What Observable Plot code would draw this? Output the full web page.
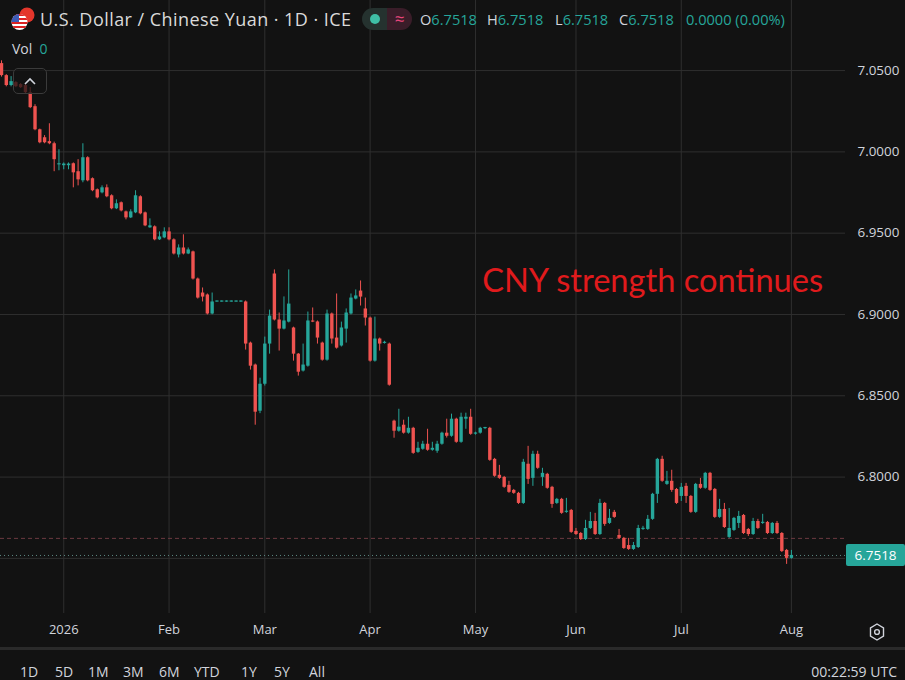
<!DOCTYPE html>
<html><head><meta charset="utf-8">
<script src="https://cdn.jsdelivr.net/npm/d3@7"></script>
<script src="https://cdn.jsdelivr.net/npm/@observablehq/plot@0.6"></script>
<style>
html,body{margin:0;padding:0;background:#121212;}
#wrap{position:relative;width:905px;height:680px;background:#121212;overflow:hidden;font-family:"Open Sans","Noto Sans",sans-serif;color:#d1d4dc;}
#chart{position:absolute;left:0;top:0;}
.abs{position:absolute;white-space:nowrap;}
#title{left:40px;top:6px;font-size:18px;letter-spacing:0.45px;line-height:26px;color:#dadada;}
#pill{left:362px;top:8px;width:50px;height:22px;border-radius:11px;overflow:hidden;display:flex;}
#pill .a{width:25px;background:#25322f;display:flex;align-items:center;justify-content:center;}
#pill .b{width:25px;background:#3a1d29;display:flex;align-items:center;justify-content:center;color:#e8467c;font-size:17px;line-height:22px;}
.ohlc{top:9px;font-size:14.6px;line-height:20px;}
.k{color:#d1d4dc;} .v{color:#26a69a;}
#vol{left:12px;top:39px;font-size:14px;line-height:20px;}
#btn{left:13px;top:68px;width:32px;height:24px;border:1px solid #3b3b3b;border-radius:5px;background:rgba(18,18,18,0.72);}
#sep{left:0;top:647px;width:905px;height:3px;background:#2a2a2a;}
.tb{top:662px;font-size:14px;line-height:20px;color:#d1d4dc;}
#price{width:59px;height:22px;left:846px;background:#26a69a;color:#fff;font-size:13.5px;line-height:22px;text-align:center;border-radius:2px;}
</style></head><body>
<div id="wrap">
  <div id="chart"></div>
  <svg class="abs" style="left:10px;top:6px" width="28" height="26" viewBox="0 0 28 26">
    <circle cx="17" cy="9" r="7.5" fill="#e4362b"/>
    <circle cx="9.5" cy="16" r="8" fill="#fff"/>
    <clipPath id="cu"><circle cx="9.5" cy="16" r="8"/></clipPath>
    <g clip-path="url(#cu)">
      <rect x="0" y="8" width="20" height="2" fill="#d22"/>
      <rect x="0" y="12" width="20" height="2" fill="#d22"/>
      <rect x="0" y="16" width="20" height="2" fill="#d22"/>
      <rect x="0" y="20" width="20" height="2" fill="#d22"/>
      <rect x="0" y="8" width="9" height="8" fill="#3d5bb5"/>
    </g>
  </svg>
  <div id="title" class="abs">U.S. Dollar / Chinese Yuan · 1D · ICE</div>
  <div id="pill" class="abs"><div class="a"><svg width="12" height="12"><circle cx="6" cy="6" r="5" fill="#3fbfa6"/></svg></div><div class="b">≈</div></div>
  <div class="abs ohlc" style="left:420px"><span class="k">O</span><span class="v">6.7518</span></div>
  <div class="abs ohlc" style="left:487px"><span class="k">H</span><span class="v">6.7518</span></div>
  <div class="abs ohlc" style="left:555px"><span class="k">L</span><span class="v">6.7518</span></div>
  <div class="abs ohlc" style="left:619px"><span class="k">C</span><span class="v">6.7518</span></div>
  <div class="abs ohlc" style="left:686px"><span class="v">0.0000 (0.00%)</span></div>
  <div id="vol" class="abs"><span class="k">Vol</span>&nbsp;&nbsp;<span class="v">0</span></div>
  <div id="btn" class="abs"><svg width="32" height="24"><path d="M11 15 L16 10 L21 15" stroke="#d1d4dc" stroke-width="1.6" fill="none"/></svg></div>
  <svg class="abs" style="left:868px;top:622px" width="18" height="20" viewBox="0 0 18 20">
    <path d="M9 2 L15.5 5.8 L15.5 14.2 L9 18 L2.5 14.2 L2.5 5.8 Z" fill="none" stroke="#d1d4dc" stroke-width="1.4"/>
    <circle cx="9" cy="10" r="2.4" fill="none" stroke="#d1d4dc" stroke-width="1.4"/>
  </svg>
  <div id="sep" class="abs"></div>
  <div id="price" class="abs">6.7518</div>
</div>
<script>
// ---- data ----
const openP = [
7.0543,7.0469,7.0408,7.0426,7.0414,7.0408,7.0364,7.0278,7.0136,7.0087,
7.0063,7.0050,6.9920,6.9915,6.9915,6.9927,6.9878,6.9822,6.9964,6.9835,
6.9767,6.9748,6.9779,6.9730,6.9650,6.9687,6.9631,6.9594,6.9625,6.9724,
6.9625,6.9533,6.9539,6.9459,6.9471,6.9508,6.9459,6.9366,6.9409,6.9372,
6.9385,6.9218,6.9132,6.9120,6.9003,6.9076,6.9076,6.9076,6.9076,6.9076,
6.9076,6.9077,6.8824,6.8689,6.8405,6.8571,6.8818,6.9249,6.8966,6.8910,
6.8953,6.8917,6.8756,6.8652,6.8682,6.8960,6.8954,6.8824,6.8719,6.9003,
6.8855,6.8806,6.8910,6.9003,6.9095,6.9144,6.9034,6.8978,6.8713,6.8849,
6.8822,6.8818,6.8344,6.8282,6.8319,6.8270,6.8300,6.8152,6.8171,6.8202,
6.8165,6.8159,6.8202,6.8270,6.8251,6.8356,6.8214,6.8356,6.8368,6.8264,
6.8270,6.8298,6.8300,6.8109,6.8011,6.7998,6.7949,6.7918,6.7900,6.7838,
6.8079,6.7992,6.8140,6.7998,6.8017,6.7937,6.7838,6.7863,6.7783,6.7795,
6.7666,6.7653,6.7616,6.7684,6.7727,6.7647,6.7838,6.7715,6.7783,6.7641,
6.7623,6.7579,6.7555,6.7567,6.7678,6.7678,6.7740,6.7894,6.8109,6.7955,
6.7974,6.7924,6.7881,6.7943,6.7881,6.7783,6.7955,6.7931,6.8023,6.7924,
6.7752,6.7801,6.7629,6.7672,6.7715,6.7764,6.7678,6.7647,6.7727,6.7715,
6.7721,6.7653,6.7715,6.7653,6.7549,6.7500];
const highP = [
7.0560,7.0475,7.0463,7.0432,7.0420,7.0414,7.0395,7.0290,7.0140,7.0100,
7.0173,7.0060,7.0013,6.9932,6.9932,6.9932,6.9952,7.0050,6.9970,6.9840,
6.9772,6.9791,6.9797,6.9736,6.9705,6.9692,6.9636,6.9644,6.9761,6.9730,
6.9630,6.9588,6.9545,6.9508,6.9533,6.9533,6.9465,6.9428,6.9490,6.9409,
6.9390,6.9224,6.9163,6.9126,6.9132,6.9083,6.9083,6.9083,6.9083,6.9083,
6.9083,6.9083,6.8830,6.8695,6.8608,6.8861,6.9027,6.9274,6.9009,6.9108,
6.9274,6.8922,6.8760,6.8818,6.9015,6.9040,6.8960,6.8830,6.9027,6.9009,
6.9126,6.8953,6.9034,6.9126,6.9151,6.9206,6.9101,6.8984,6.8984,6.8855,
6.8835,6.8824,6.8350,6.8417,6.8350,6.8368,6.8306,6.8214,6.8220,6.8294,
6.8214,6.8220,6.8276,6.8356,6.8387,6.8362,6.8393,6.8393,6.8417,6.8276,
6.8306,6.8306,6.8306,6.8115,6.8072,6.8004,6.7974,6.7924,6.7906,6.8109,
6.8189,6.8159,6.8159,6.8054,6.8023,6.7943,6.7869,6.7869,6.7869,6.7801,
6.7684,6.7659,6.7734,6.7783,6.7777,6.7863,6.7844,6.7801,6.7795,6.7678,
6.7629,6.7623,6.7598,6.7703,6.7697,6.7764,6.7900,6.8115,6.8128,6.8035,
6.8042,6.7930,6.7961,6.7961,6.7887,6.7961,6.7992,6.8029,6.8029,6.7930,
6.7863,6.7838,6.7807,6.7752,6.7789,6.7770,6.7684,6.7746,6.7740,6.7771,
6.7727,6.7721,6.7727,6.7659,6.7555,6.7549];
const lowP = [
7.0460,7.0400,7.0400,7.0395,7.0390,7.0358,7.0266,7.0130,7.0050,7.0050,
7.0044,6.9878,6.9884,6.9890,6.9890,6.9779,6.9791,6.9810,6.9816,6.9755,
6.9711,6.9742,6.9718,6.9644,6.9645,6.9631,6.9582,6.9590,6.9620,6.9613,
6.9540,6.9530,6.9453,6.9455,6.9466,6.9453,6.9366,6.9348,6.9366,6.9368,
6.9212,6.9095,6.9077,6.8997,6.8998,6.9076,6.9076,6.9076,6.9076,6.9076,
6.9076,6.8781,6.8658,6.8319,6.8390,6.8560,6.8756,6.8960,6.8775,6.8905,
6.8948,6.8713,6.8621,6.8646,6.8676,6.8950,6.8818,6.8713,6.8713,6.8818,
6.8787,6.8800,6.8824,6.8997,6.9090,6.9052,6.8929,6.8707,6.8707,6.8775,
6.8818,6.8559,6.8239,6.8276,6.8264,6.8264,6.8140,6.8146,6.8165,6.8159,
6.8159,6.8146,6.8196,6.8240,6.8245,6.8208,6.8208,6.8294,6.8257,6.8258,
6.8264,6.8292,6.8097,6.7999,6.7986,6.7931,6.7900,6.7894,6.7832,6.7832,
6.7955,6.7943,6.8048,6.7943,6.7925,6.7808,6.7832,6.7771,6.7777,6.7654,
6.7641,6.7610,6.7610,6.7678,6.7641,6.7641,6.7697,6.7709,6.7746,6.7617,
6.7555,6.7549,6.7549,6.7561,6.7672,6.7672,6.7734,6.7838,6.7968,6.7949,
6.7906,6.7832,6.7850,6.7838,6.7777,6.7777,6.7925,6.7925,6.7912,6.7746,
6.7746,6.7684,6.7623,6.7666,6.7684,6.7647,6.7635,6.7641,6.7678,6.7709,
6.7647,6.7647,6.7647,6.7536,6.7463,6.7495];
const closeP = [
7.0469,7.0408,7.0432,7.0401,7.0395,7.0364,7.0272,7.0136,7.0056,7.0056,
7.0050,6.9952,6.9927,6.9925,6.9925,6.9871,6.9828,6.9964,6.9822,6.9761,
6.9717,6.9779,6.9724,6.9650,6.9681,6.9637,6.9594,6.9631,6.9730,6.9619,
6.9545,6.9545,6.9459,6.9477,6.9508,6.9459,6.9372,6.9409,6.9372,6.9397,
6.9218,6.9101,6.9107,6.9003,6.9077,6.9078,6.9078,6.9078,6.9078,6.9078,
6.9078,6.8818,6.8682,6.8399,6.8571,6.8818,6.8990,6.8966,6.8910,6.8960,
6.9064,6.8756,6.8645,6.8689,6.8960,6.8954,6.8855,6.8719,6.9003,6.8849,
6.8793,6.8917,6.9009,6.9101,6.9114,6.9107,6.8978,6.8713,6.8849,6.8818,
6.8826,6.8565,6.8282,6.8307,6.8270,6.8300,6.8146,6.8177,6.8202,6.8165,
6.8177,6.8202,6.8270,6.8251,6.8356,6.8214,6.8368,6.8368,6.8263,6.8270,
6.8300,6.8300,6.8103,6.8005,6.7992,6.7937,6.7906,6.7900,6.7838,6.8091,
6.7986,6.8140,6.8054,6.8023,6.7931,6.7832,6.7863,6.7777,6.7789,6.7660,
6.7647,6.7616,6.7684,6.7727,6.7647,6.7838,6.7709,6.7746,6.7752,6.7623,
6.7561,6.7555,6.7579,6.7684,6.7684,6.7740,6.7894,6.8109,6.7974,6.7974,
6.7918,6.7838,6.7937,6.7881,6.7783,6.7955,6.7931,6.8023,6.7918,6.7752,
6.7801,6.7690,6.7684,6.7746,6.7758,6.7653,6.7647,6.7727,6.7684,6.7721,
6.7653,6.7715,6.7653,6.7542,6.7500,6.7518];

// bar index of first trading day of each month, and labels
const monthTicks = [13, 35, 55, 77, 99, 120, 142, 165];
const monthLabels = ["2026", "Feb", "Mar", "Apr", "May", "Jun", "Jul", "Aug"];
const priceTicks = [6.75, 6.80, 6.85, 6.90, 6.95, 7.00, 7.05];
const priceLabelTicks = [6.80, 6.85, 6.90, 6.95, 7.00, 7.05];
const lastPrice = 6.7518;
const refLine = 6.7623;
const note = "CNY strength continues";

// ---- chart ----
const UP = "#26a69a", DOWN = "#ef5350";
const bars = openP.map((o, i) => ({i, o, h: highP[i], l: lowP[i], c: closeP[i]}));
const isUp = d => d.c >= d.o;
const isDown = d => d.c < d.o;
const minBody = 0.0007;
const bodyEnd = d => Math.abs(d.c - d.o) < minBody ? d.o + (isUp(d) ? minBody : -minBody) : d.c;
const labelMap = new Map(monthTicks.map((t, k) => [t, monthLabels[k]]));

const GRID = "#2f2f2f";
const plot = Plot.plot({
  width: 905, height: 648,
  marginLeft: 0, marginRight: 60, marginTop: 0, marginBottom: 35,
  style: {background: "transparent", color: "#d1d4dc", fontFamily: "'Open Sans','Noto Sans',sans-serif", fontSize: "13px", overflow: "visible"},
  x: {type: "linear", domain: [-0.21, 176.3]},
  y: {type: "linear", domain: [6.7161, 7.0931]},
  marks: [
    Plot.gridX(monthTicks, {stroke: GRID, strokeOpacity: 1, strokeWidth: 1}),
    Plot.gridY(priceTicks, {stroke: GRID, strokeOpacity: 1, strokeWidth: 1}),
    Plot.ruleY([refLine], {stroke: "#6b3a40", strokeDasharray: "4,3", strokeWidth: 1}),
    Plot.ruleY([lastPrice], {stroke: "#5e8a84", strokeDasharray: "1,3", strokeWidth: 1}),
    Plot.ruleX(bars, {filter: isUp, x: "i", y1: "l", y2: "h", stroke: UP, strokeWidth: 1}),
    Plot.ruleX(bars, {filter: isDown, x: "i", y1: "l", y2: "h", stroke: DOWN, strokeWidth: 1}),
    Plot.ruleX(bars, {filter: isUp, x: "i", y1: "o", y2: bodyEnd, stroke: UP, strokeWidth: 3.4}),
    Plot.ruleX(bars, {filter: isDown, x: "i", y1: "o", y2: bodyEnd, stroke: DOWN, strokeWidth: 3.4}),
    Plot.text([note], {x: 100.4, y: 6.9200, text: d => d, textAnchor: "start", fill: "#e01a1c", fontSize: 32.6, fontFamily: "Lato, 'Open Sans', sans-serif"}),
    Plot.axisX(monthTicks, {tickFormat: d => labelMap.get(d), tickSize: 0, tickPadding: 11, label: null, fontSize: 13, fill: "#d1d4dc"}),
    Plot.axisY(priceLabelTicks, {anchor: "right", tickSize: 0, tickPadding: 12, tickFormat: d => d.toFixed(4), label: null, fontSize: 13.4, fill: "#d1d4dc"})
  ]
});
document.getElementById("chart").appendChild(plot);

// position last price label from the y scale
const yPix = plot.scale("y").apply(lastPrice);
document.getElementById("price").style.top = (yPix - 11) + "px";

// bottom toolbar
const ranges = ["1D","5D","1M","3M","6M","YTD","1Y","5Y","All"];
const rangeX = [20, 55, 88, 123, 159, 194, 241, 274, 309];
const wrap = document.getElementById("wrap");
ranges.forEach((r, k) => {
  const s = document.createElement("div");
  s.className = "abs tb"; s.style.left = rangeX[k] + "px"; s.textContent = r;
  wrap.appendChild(s);
});
const clock = document.createElement("div");
clock.className = "abs tb"; clock.style.right = "8px"; clock.textContent = "00:22:59 UTC";
wrap.appendChild(clock);
</script>
</body></html>
